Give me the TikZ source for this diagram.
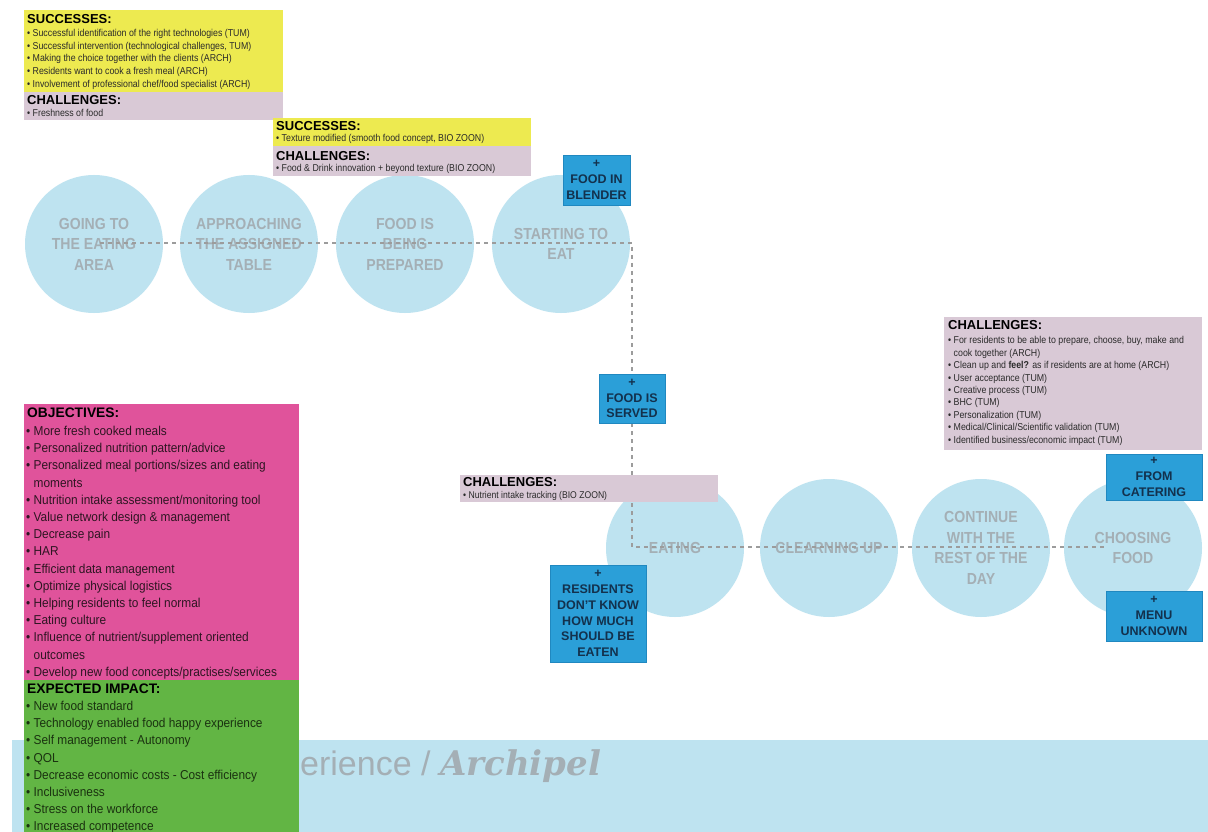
\documentclass[tikz,border=0pt]{standalone}
\usepackage{fontspec}
\setmainfont{Liberation Sans}
\newfontfamily\narrowsans{Liberation Sans}[FakeStretch=0.88]
\newfontfamily\listsans{Liberation Sans}[FakeStretch=0.92]
\newfontfamily\brandfont{DejaVu Serif}

\definecolor{succfill}{HTML}{EDEA50}
\definecolor{challfill}{HTML}{D9C9D6}
\definecolor{objfill}{HTML}{E0539B}
\definecolor{impfill}{HTML}{62B544}
\definecolor{tagfill}{HTML}{2B9FD8}
\definecolor{tagedge}{HTML}{2088C0}
\definecolor{tagtext}{HTML}{13314D}
\definecolor{stagefill}{HTML}{BEE3F0}
\definecolor{stagetext}{HTML}{A4AFB5}
\definecolor{bandfill}{HTML}{BEE3F0}
\definecolor{pathgrey}{HTML}{9C9C9C}
\definecolor{bodytext}{HTML}{2A2A2A}
\definecolor{objtext}{HTML}{2E1522}
\definecolor{imptext}{HTML}{1A3210}

\newcommand{\bl}{\textbullet\ }
\newcommand{\blindent}{\phantom{\textbullet\ }}

\tikzset{
  panel/.style={rectangle, inner sep=0, outer sep=0, anchor=north west},
  paneltitle/.style={inner sep=0, anchor=north west, text=black,
    font=\bfseries\fontsize{13}{13}\selectfont},
  smalllist/.style={inner sep=0, anchor=north west, align=left, text=bodytext,
    font=\narrowsans\fontsize{10}{12.75}\selectfont},
  biglist/.style={inner sep=0, anchor=north west, align=left,
    font=\listsans\fontsize{12.9}{17.2}\selectfont},
  stage/.style={circle, fill=stagefill, minimum size=138, inner sep=0,
    align=center, text=stagetext,
    font=\narrowsans\bfseries\fontsize{16}{20.5}\selectfont},
  tagbox/.style={rectangle, fill=tagfill, draw=tagedge, line width=0.8,
    inner sep=0, align=center, text=tagtext,
    font=\bfseries\fontsize{12.5}{15.7}\selectfont},
  journey/.style={draw=pathgrey, line width=1.3, dash pattern=on 4pt off 4pt}
}

\begin{document}
\begin{tikzpicture}[x=1pt,y=-1pt]
\useasboundingbox (0,0) rectangle (1208,832);
\fill[white] (0,0) rectangle (1208,832);

% brand band along the bottom
\fill[bandfill] (12,740) rectangle (1208,832);
\node[anchor=base west, inner sep=0, text=stagetext,
      font=\fontsize{34}{34}\selectfont] (brand) at (300,775)
  {erience / {\brandfont\bfseries\itshape Archipel}};

% journey stages, first row
\node[stage] (go)    at (94,244)  {GOING TO\\THE EATING\\AREA};
\node[stage] (table) at (249,244) {APPROACHING\\THE ASSIGNED\\TABLE};
\node[stage] (prep)  at (405,244) {FOOD IS\\BEING\\PREPARED};
\node[stage] (start) at (561,244) {STARTING TO\\EAT};

% journey stages, second row
\node[stage] (eat)   at (675,548)  {EATING};
\node[stage] (clean) at (829,548)  {CLEARNING UP};
\node[stage] (cont)  at (981,548)  {CONTINUE\\WITH THE\\REST OF THE\\DAY};
\node[stage] (choose) at (1133,548) {CHOOSING\\FOOD};

% dashed route through the stages
\coordinate (routeA) at (100,243);
\coordinate (routeB) at (632,243);
\coordinate (routeC) at (632,547);
\coordinate (routeD) at (1105,547);
\draw[journey] (routeA) -- (routeB) -- (routeC) -- (routeD);

% successes / challenges at the start
\node[panel, fill=succfill, minimum width=259, minimum height=82] (succA) at (24,10) {};
\node[panel, fill=challfill, minimum width=259, minimum height=28] (challA) at (24,92) {};
\node[paneltitle] at ([shift={(3,4)}]succA.north west) {SUCCESSES:};
\node[smalllist] at ([shift={(3,19)}]succA.north west)
  {\bl Successful identification of the right technologies (TUM)\\
   \bl Successful intervention (technological challenges, TUM)\\
   \bl Making the choice together with the clients (ARCH)\\
   \bl Residents want to cook a fresh meal (ARCH)\\
   \bl Involvement of professional chef/food specialist (ARCH)};
\node[paneltitle] at ([shift={(3,3.5)}]challA.north west) {CHALLENGES:};
\node[smalllist] at ([shift={(3,17.5)}]challA.north west) {\bl Freshness of food};

% successes / challenges around food preparation
\node[panel, fill=succfill, minimum width=258, minimum height=28] (succB) at (273,118) {};
\node[panel, fill=challfill, minimum width=258, minimum height=30] (challB) at (273,146) {};
\node[paneltitle] at ([shift={(3,3)}]succB.north west) {SUCCESSES:};
\node[smalllist] at ([shift={(3,16)}]succB.north west)
  {\bl Texture modified (smooth food concept, BIO ZOON)};
\node[paneltitle] at ([shift={(3,5)}]challB.north west) {CHALLENGES:};
\node[smalllist] at ([shift={(3,18)}]challB.north west)
  {\bl Food \& Drink innovation + beyond texture (BIO ZOON)};

% challenges while eating
\node[panel, fill=challfill, minimum width=258, minimum height=27] (challC) at (460,475) {};
\node[paneltitle] at ([shift={(3,2.5)}]challC.north west) {CHALLENGES:};
\node[smalllist, font=\narrowsans\fontsize{9.8}{12}\selectfont]
  at ([shift={(3,16)}]challC.north west) {\bl Nutrient intake tracking (BIO ZOON)};

% challenges around choosing food
\node[panel, fill=challfill, minimum width=258, minimum height=133] (challD) at (944,317) {};
\node[paneltitle] at ([shift={(4,3)}]challD.north west) {CHALLENGES:};
\node[smalllist, font=\narrowsans\fontsize{10}{12.4}\selectfont]
  at ([shift={(4,19.5)}]challD.north west)
  {\bl For residents to be able to prepare, choose, buy, make and\\
   \blindent cook together (ARCH)\\
   \bl Clean up and \textbf{feel?} as if residents are at home (ARCH)\\
   \bl User acceptance (TUM)\\
   \bl Creative process (TUM)\\
   \bl BHC (TUM)\\
   \bl Personalization (TUM)\\
   \bl Medical/Clinical/Scientific validation (TUM)\\
   \bl Identified business/economic impact (TUM)};

% pain points along the route
\node[tagbox, minimum width=67, minimum height=50] (blender) at (596.5,180)
  {+\\FOOD IN\\BLENDER};
\node[tagbox, minimum width=66, minimum height=49] (served) at (632,398.5)
  {+\\FOOD IS\\SERVED};
\node[tagbox, minimum width=96, minimum height=46] (catering) at (1154,477)
  {+\\FROM\\CATERING};
\node[tagbox, minimum width=96, minimum height=97] (howmuch) at (598,613.5)
  {+\\RESIDENTS\\DON'T KNOW\\HOW MUCH\\SHOULD BE\\EATEN};
\node[tagbox, minimum width=96, minimum height=50] (menu) at (1154,616)
  {+\\MENU\\UNKNOWN};

% objectives
\node[panel, fill=objfill, minimum width=275, minimum height=276] (obj) at (24,404) {};
\node[paneltitle, font=\bfseries\fontsize{13.8}{13.8}\selectfont]
  at ([shift={(3,4)}]obj.north west) {OBJECTIVES:};
\node[biglist, text=objtext] at ([shift={(2,22)}]obj.north west)
  {\bl More fresh cooked meals\\
   \bl Personalized nutrition pattern/advice\\
   \bl Personalized meal portions/sizes and eating\\
   \blindent moments\\
   \bl Nutrition intake assessment/monitoring tool\\
   \bl Value network design \& management\\
   \bl Decrease pain\\
   \bl HAR\\
   \bl Efficient data management\\
   \bl Optimize physical logistics\\
   \bl Helping residents to feel normal\\
   \bl Eating culture\\
   \bl Influence of nutrient/supplement oriented\\
   \blindent outcomes\\
   \bl Develop new food concepts/practises/services};

% expected impact
\node[panel, fill=impfill, minimum width=275, minimum height=152] (imp) at (24,680) {};
\node[paneltitle, font=\bfseries\fontsize{13.8}{13.8}\selectfont]
  at ([shift={(3,4)}]imp.north west) {EXPECTED IMPACT:};
\node[biglist, text=imptext] at ([shift={(2,21)}]imp.north west)
  {\bl New food standard\\
   \bl Technology enabled food happy experience\\
   \bl Self management - Autonomy\\
   \bl QOL\\
   \bl Decrease economic costs - Cost efficiency\\
   \bl Inclusiveness\\
   \bl Stress on the workforce\\
   \bl Increased competence};
\end{tikzpicture}
\end{document}
